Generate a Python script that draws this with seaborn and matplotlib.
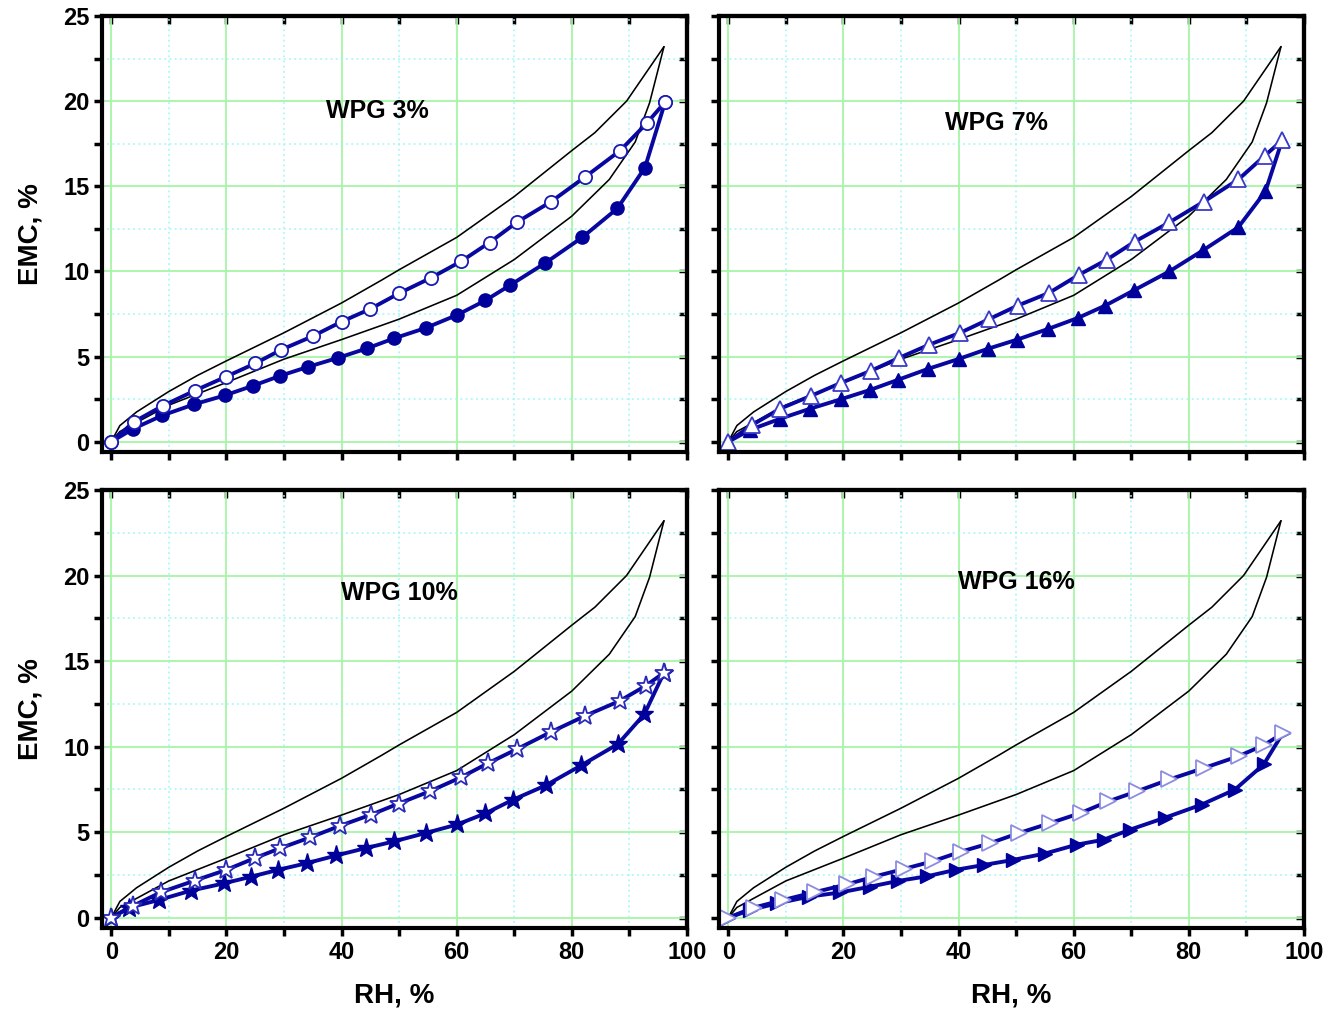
import matplotlib
matplotlib.use("Agg")
import matplotlib.pyplot as plt
import seaborn as sns
import numpy as np
import pandas as pd
from matplotlib.ticker import MultipleLocator

# ---------------- data ----------------
# untreated (control) reference hysteresis loop, drawn in every panel
ctrl_rh_des = [0, 1.5, 4.4, 10, 15, 20, 30, 40, 47, 50, 60, 70, 80, 84, 89.5, 96]
ctrl_emc_des = [0, 0.95, 1.75, 2.95, 3.9, 4.75, 6.4, 8.15, 9.5, 10.1, 12.0, 14.4, 17.1, 18.15, 20.0, 23.2]
ctrl_rh_ads = [0, 1.5, 4.4, 10, 20, 30, 40, 50, 60, 70, 80, 86.5, 91, 93.5, 96]
ctrl_emc_ads = [0, 0.6, 1.13, 2.15, 3.48, 4.85, 6.0, 7.2, 8.6, 10.7, 13.25, 15.4, 17.6, 19.9, 23.2]

# WPG 3%
rh3_des = [0, 4, 9, 14.5, 20, 25, 29.5, 35, 40, 45, 50, 55.5, 60.8, 65.7, 70.5, 76.4, 82.3, 88.4, 93, 96.2]
emc3_des = [0, 1.18, 2.12, 3.0, 3.83, 4.6, 5.4, 6.2, 7.05, 7.8, 8.72, 9.62, 10.6, 11.7, 12.9, 14.1, 15.55, 17.1, 18.7, 19.95]
rh3_ads = [0, 3.8, 8.9, 14.4, 19.7, 24.7, 29.4, 34.2, 39.4, 44.4, 49.1, 54.6, 60.1, 65, 69.3, 75.4, 81.8, 87.9, 92.7, 96.2]
emc3_ads = [0, 0.76, 1.55, 2.2, 2.72, 3.3, 3.88, 4.4, 4.93, 5.48, 6.07, 6.68, 7.45, 8.3, 9.2, 10.5, 12.0, 13.7, 16.1, 19.95]

# WPG 7%
rh7_des = [0, 4.2, 9, 14.4, 19.6, 24.8, 29.7, 34.9, 40.3, 45.3, 50.3, 55.7, 60.9, 65.8, 70.6, 76.6, 82.6, 88.6, 93.2, 96.2]
emc7_des = [0, 1.0, 1.94, 2.7, 3.46, 4.17, 4.93, 5.7, 6.4, 7.2, 8.0, 8.74, 9.8, 10.7, 11.75, 12.88, 14.1, 15.4, 16.8, 17.7]
rh7_ads = [0, 3.8, 9, 14.2, 19.6, 24.7, 29.5, 34.7, 40.1, 45.1, 50.2, 55.6, 60.8, 65.5, 70.5, 76.6, 82.5, 88.6, 93.3, 96.2]
emc7_ads = [0, 0.7, 1.35, 1.94, 2.5, 3.05, 3.64, 4.28, 4.87, 5.46, 6.0, 6.63, 7.28, 8.0, 8.9, 10.0, 11.25, 12.6, 14.7, 17.7]

# WPG 10%
rh10_des = [0, 3.8, 8.7, 14.5, 20, 24.9, 29.4, 34.6, 39.8, 45.1, 49.9, 55.4, 60.7, 65.5, 70.5, 76.4, 82.3, 88.3, 92.8, 96]
emc10_des = [0, 0.7, 1.5, 2.17, 2.8, 3.48, 4.07, 4.7, 5.38, 6.02, 6.67, 7.4, 8.2, 9.04, 9.86, 10.86, 11.8, 12.67, 13.55, 14.32]
rh10_ads = [0, 3.1, 8.3, 13.8, 19.6, 24.3, 29, 34, 39.1, 44.2, 49.1, 54.6, 60.1, 65, 69.8, 75.5, 81.6, 88, 92.6, 96]
emc10_ads = [0, 0.59, 1.04, 1.58, 2.01, 2.4, 2.8, 3.19, 3.64, 4.07, 4.46, 4.95, 5.45, 6.1, 6.9, 7.74, 8.9, 10.15, 11.9, 14.32]

# WPG 16%
rh16_des = [0, 4.4, 9.6, 15.1, 20.6, 25.3, 30.5, 35.5, 40.5, 45.5, 50.5, 55.9, 61.2, 66, 71, 76.6, 82.7, 88.7, 93.1, 96.3]
emc16_des = [0, 0.59, 1.04, 1.5, 1.95, 2.4, 2.85, 3.3, 3.87, 4.36, 4.95, 5.53, 6.12, 6.8, 7.39, 8.08, 8.76, 9.45, 10.1, 10.78]
rh16_ads = [0, 3.8, 8.5, 14, 19.5, 24.7, 29.5, 34.5, 39.5, 44.5, 49.5, 55, 60.5, 65.2, 69.8, 75.9, 82.2, 88, 93, 96.3]
emc16_ads = [0, 0.45, 0.84, 1.23, 1.48, 1.82, 2.15, 2.42, 2.8, 3.09, 3.38, 3.75, 4.27, 4.56, 5.15, 5.85, 6.61, 7.49, 8.96, 10.78]

panel_titles = ["WPG 3%", "WPG 7%", "WPG 10%", "WPG 16%"]
x_label = "RH, %"
y_label = "EMC, %"

# ---------------- style ----------------
sns.set_style("white")
plt.rcParams["font.family"] = ["Liberation Sans", "DejaVu Sans"]
plt.rcParams["font.weight"] = "bold"
plt.rcParams["axes.labelweight"] = "bold"
plt.rcParams["text.color"] = "black"
plt.rcParams["axes.labelcolor"] = "black"
plt.rcParams["xtick.color"] = "black"
plt.rcParams["ytick.color"] = "black"
plt.rcParams["xtick.labelcolor"] = "black"
plt.rcParams["ytick.labelcolor"] = "black"

LINE = "#0808a0"
FILL = "#00009a"

panels = [
    dict(des=(rh3_des, emc3_des), ads=(rh3_ads, emc3_ads), m="o", ms=9.5, ms_f=9.5,
         open_edge="#1a1ab4", title_xy=(46.2, 19.4)),
    dict(des=(rh7_des, emc7_des), ads=(rh7_ads, emc7_ads), m="^", ms=11, ms_f=10,
         open_edge="#3a3ac8", title_xy=(46.5, 18.7)),
    dict(des=(rh10_des, emc10_des), ads=(rh10_ads, emc10_ads), m="*", ms=14, ms_f=14,
         open_edge="#2a2ab8", title_xy=(50.0, 19.0)),
    dict(des=(rh16_des, emc16_des), ads=(rh16_ads, emc16_ads), m=">", ms=11, ms_f=10,
         open_edge="#8c8ce0", title_xy=(50.0, 19.6)),
]

fig = plt.figure(figsize=(13.3, 10.13), dpi=100)
W, H = 1330, 1013
boxes = [
    (102, 16, 687, 452),
    (719, 16, 1304, 452),
    (102, 490, 687, 928),
    (719, 490, 1304, 928),
]

for i, (p, (l, t, r, b)) in enumerate(zip(panels, boxes)):
    ax = fig.add_axes([l / W, 1 - b / H, (r - l) / W, (b - t) / H])
    ax.set_xlim(-1.6, 100)
    ax.set_ylim(-0.6, 25)
    ax.xaxis.set_major_locator(MultipleLocator(20))
    ax.xaxis.set_minor_locator(MultipleLocator(10))
    ax.yaxis.set_major_locator(MultipleLocator(5))
    ax.yaxis.set_minor_locator(MultipleLocator(2.5))
    ax.set_axisbelow(True)
    ax.grid(which="major", color="#a6f5a6", lw=1.3, ls="-")
    ax.grid(which="minor", color="#9ef7f7", lw=1.1, ls=(0, (1.2, 2.2)))

    # control loop
    ctrl_d = pd.DataFrame({"RH": ctrl_rh_des, "EMC": ctrl_emc_des})
    ctrl_a = pd.DataFrame({"RH": ctrl_rh_ads, "EMC": ctrl_emc_ads})
    sns.lineplot(data=ctrl_d, x="RH", y="EMC", ax=ax, color="black", lw=1.15,
                 sort=False, estimator=None, zorder=3)
    sns.lineplot(data=ctrl_a, x="RH", y="EMC", ax=ax, color="black", lw=1.15,
                 sort=False, estimator=None, zorder=3)

    # treated: adsorption (filled) then desorption (open)
    da = pd.DataFrame({"RH": p["ads"][0], "EMC": p["ads"][1]})
    dd = pd.DataFrame({"RH": p["des"][0], "EMC": p["des"][1]})
    sns.lineplot(data=da, x="RH", y="EMC", ax=ax, color=LINE, lw=2.8,
                 marker=p["m"], markersize=p["ms_f"], markerfacecolor=FILL,
                 markeredgecolor=FILL, markeredgewidth=1.0,
                 sort=False, estimator=None, zorder=4)
    sns.lineplot(data=dd, x="RH", y="EMC", ax=ax, color=LINE, lw=2.8,
                 marker=p["m"], markersize=p["ms"], markerfacecolor="white",
                 markeredgecolor=p["open_edge"], markeredgewidth=1.3,
                 sort=False, estimator=None, zorder=5)

    ax.text(p["title_xy"][0], p["title_xy"][1], panel_titles[i], ha="center", va="center",
            fontsize=18, fontweight="bold", color="black")

    for s in ax.spines.values():
        s.set_linewidth(3)
        s.set_color("black")
        s.set_zorder(10)

    ax.tick_params(axis="both", which="both", direction="out", length=6, width=2.5,
                   color="black", labelcolor="black", labelsize=17, pad=3)
    ax.tick_params(axis="x", which="both", top=False, bottom=True)
    ax.tick_params(axis="y", which="both", left=True, right=False)

    # inward ticks on top and right sides
    topax = ax.secondary_xaxis("top")
    topax.xaxis.set_major_locator(MultipleLocator(10))
    topax.tick_params(direction="in", length=6, width=2.5, labeltop=False, color="black")
    topax.spines["top"].set_linewidth(3)
    rax = ax.secondary_yaxis("right")
    rax.yaxis.set_major_locator(MultipleLocator(2.5))
    rax.tick_params(direction="in", length=6, width=2.5, labelright=False, color="black")
    rax.spines["right"].set_linewidth(3)

    if i < 2:
        ax.tick_params(axis="x", labelbottom=False)
        ax.set_xlabel("")
    else:
        ax.set_xlabel(x_label, fontsize=20, fontweight="bold", labelpad=14, color="black")
    if i % 2 == 1:
        ax.tick_params(axis="y", labelleft=False)
        ax.set_ylabel("")
    else:
        ax.set_ylabel(y_label, fontsize=20, fontweight="bold", labelpad=14, color="black")

    for lab in ax.get_xticklabels() + ax.get_yticklabels():
        lab.set_fontweight("bold")

fig.savefig("out.png", dpi=100)
